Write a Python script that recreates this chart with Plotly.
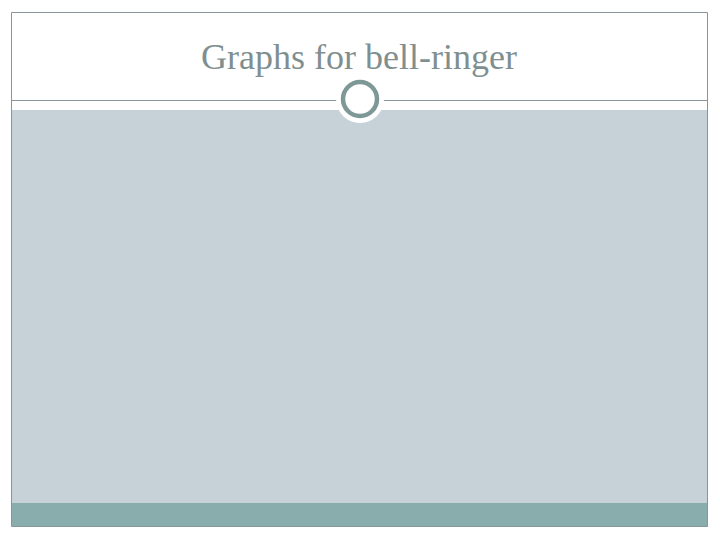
import plotly.graph_objects as go

# slide text
title_text = "Graphs for bell-ringer"

# slide regions (pixel units on a 720x540 canvas, y grows downwards)
frame = [11.5, 12.5, 707.5, 526.5]
header_rule_y = 100.5
panel = [12, 110, 707, 503]
band = [12, 503, 707, 526]
ring_center = [360, 99]

border_col = "#86979A"
panel_col = "#C6D2D8"
band_col = "#89ADAD"
ring_col = "#7E9898"
title_col = "#7F8F90"

fig = go.Figure()

shapes = [
    # content panel and bottom band
    dict(type="rect", x0=panel[0], y0=panel[1], x1=panel[2], y1=panel[3],
         fillcolor=panel_col, line=dict(width=0), layer="below"),
    dict(type="rect", x0=band[0], y0=band[1], x1=band[2], y1=band[3],
         fillcolor=band_col, line=dict(width=0), layer="below"),
    # outer frame
    dict(type="rect", x0=frame[0], y0=frame[1], x1=frame[2], y1=frame[3],
         line=dict(color=border_col, width=1)),
    # header rule
    dict(type="line", x0=frame[0], y0=header_rule_y, x1=frame[2], y1=header_rule_y,
         line=dict(color=border_col, width=1)),
    # white halo behind the ring
    dict(type="circle", x0=ring_center[0] - 24, y0=ring_center[1] - 24,
         x1=ring_center[0] + 24, y1=ring_center[1] + 24,
         fillcolor="white", line=dict(width=0)),
    # ring
    dict(type="circle", x0=ring_center[0] - 17, y0=ring_center[1] - 17,
         x1=ring_center[0] + 17, y1=ring_center[1] + 17,
         fillcolor="white", line=dict(color=ring_col, width=4.5)),
]

fig.update_layout(
    width=720, height=540,
    margin=dict(l=0, r=0, t=0, b=0),
    paper_bgcolor="white", plot_bgcolor="white",
    showlegend=False,
    shapes=shapes,
    xaxis=dict(range=[0, 720], visible=False, fixedrange=True),
    yaxis=dict(range=[540, 0], visible=False, fixedrange=True),
    annotations=[dict(
        x=359, y=57, xref="x", yref="y", text=title_text, showarrow=False,
        font=dict(family="Liberation Serif, DejaVu Serif, serif", size=36, color=title_col),
    )],
)

# drop the default page margin so the slide sits flush in the window
fig.write_html("out.html", config={"displayModeBar": False},
               post_script="document.body.style.margin='0';")
